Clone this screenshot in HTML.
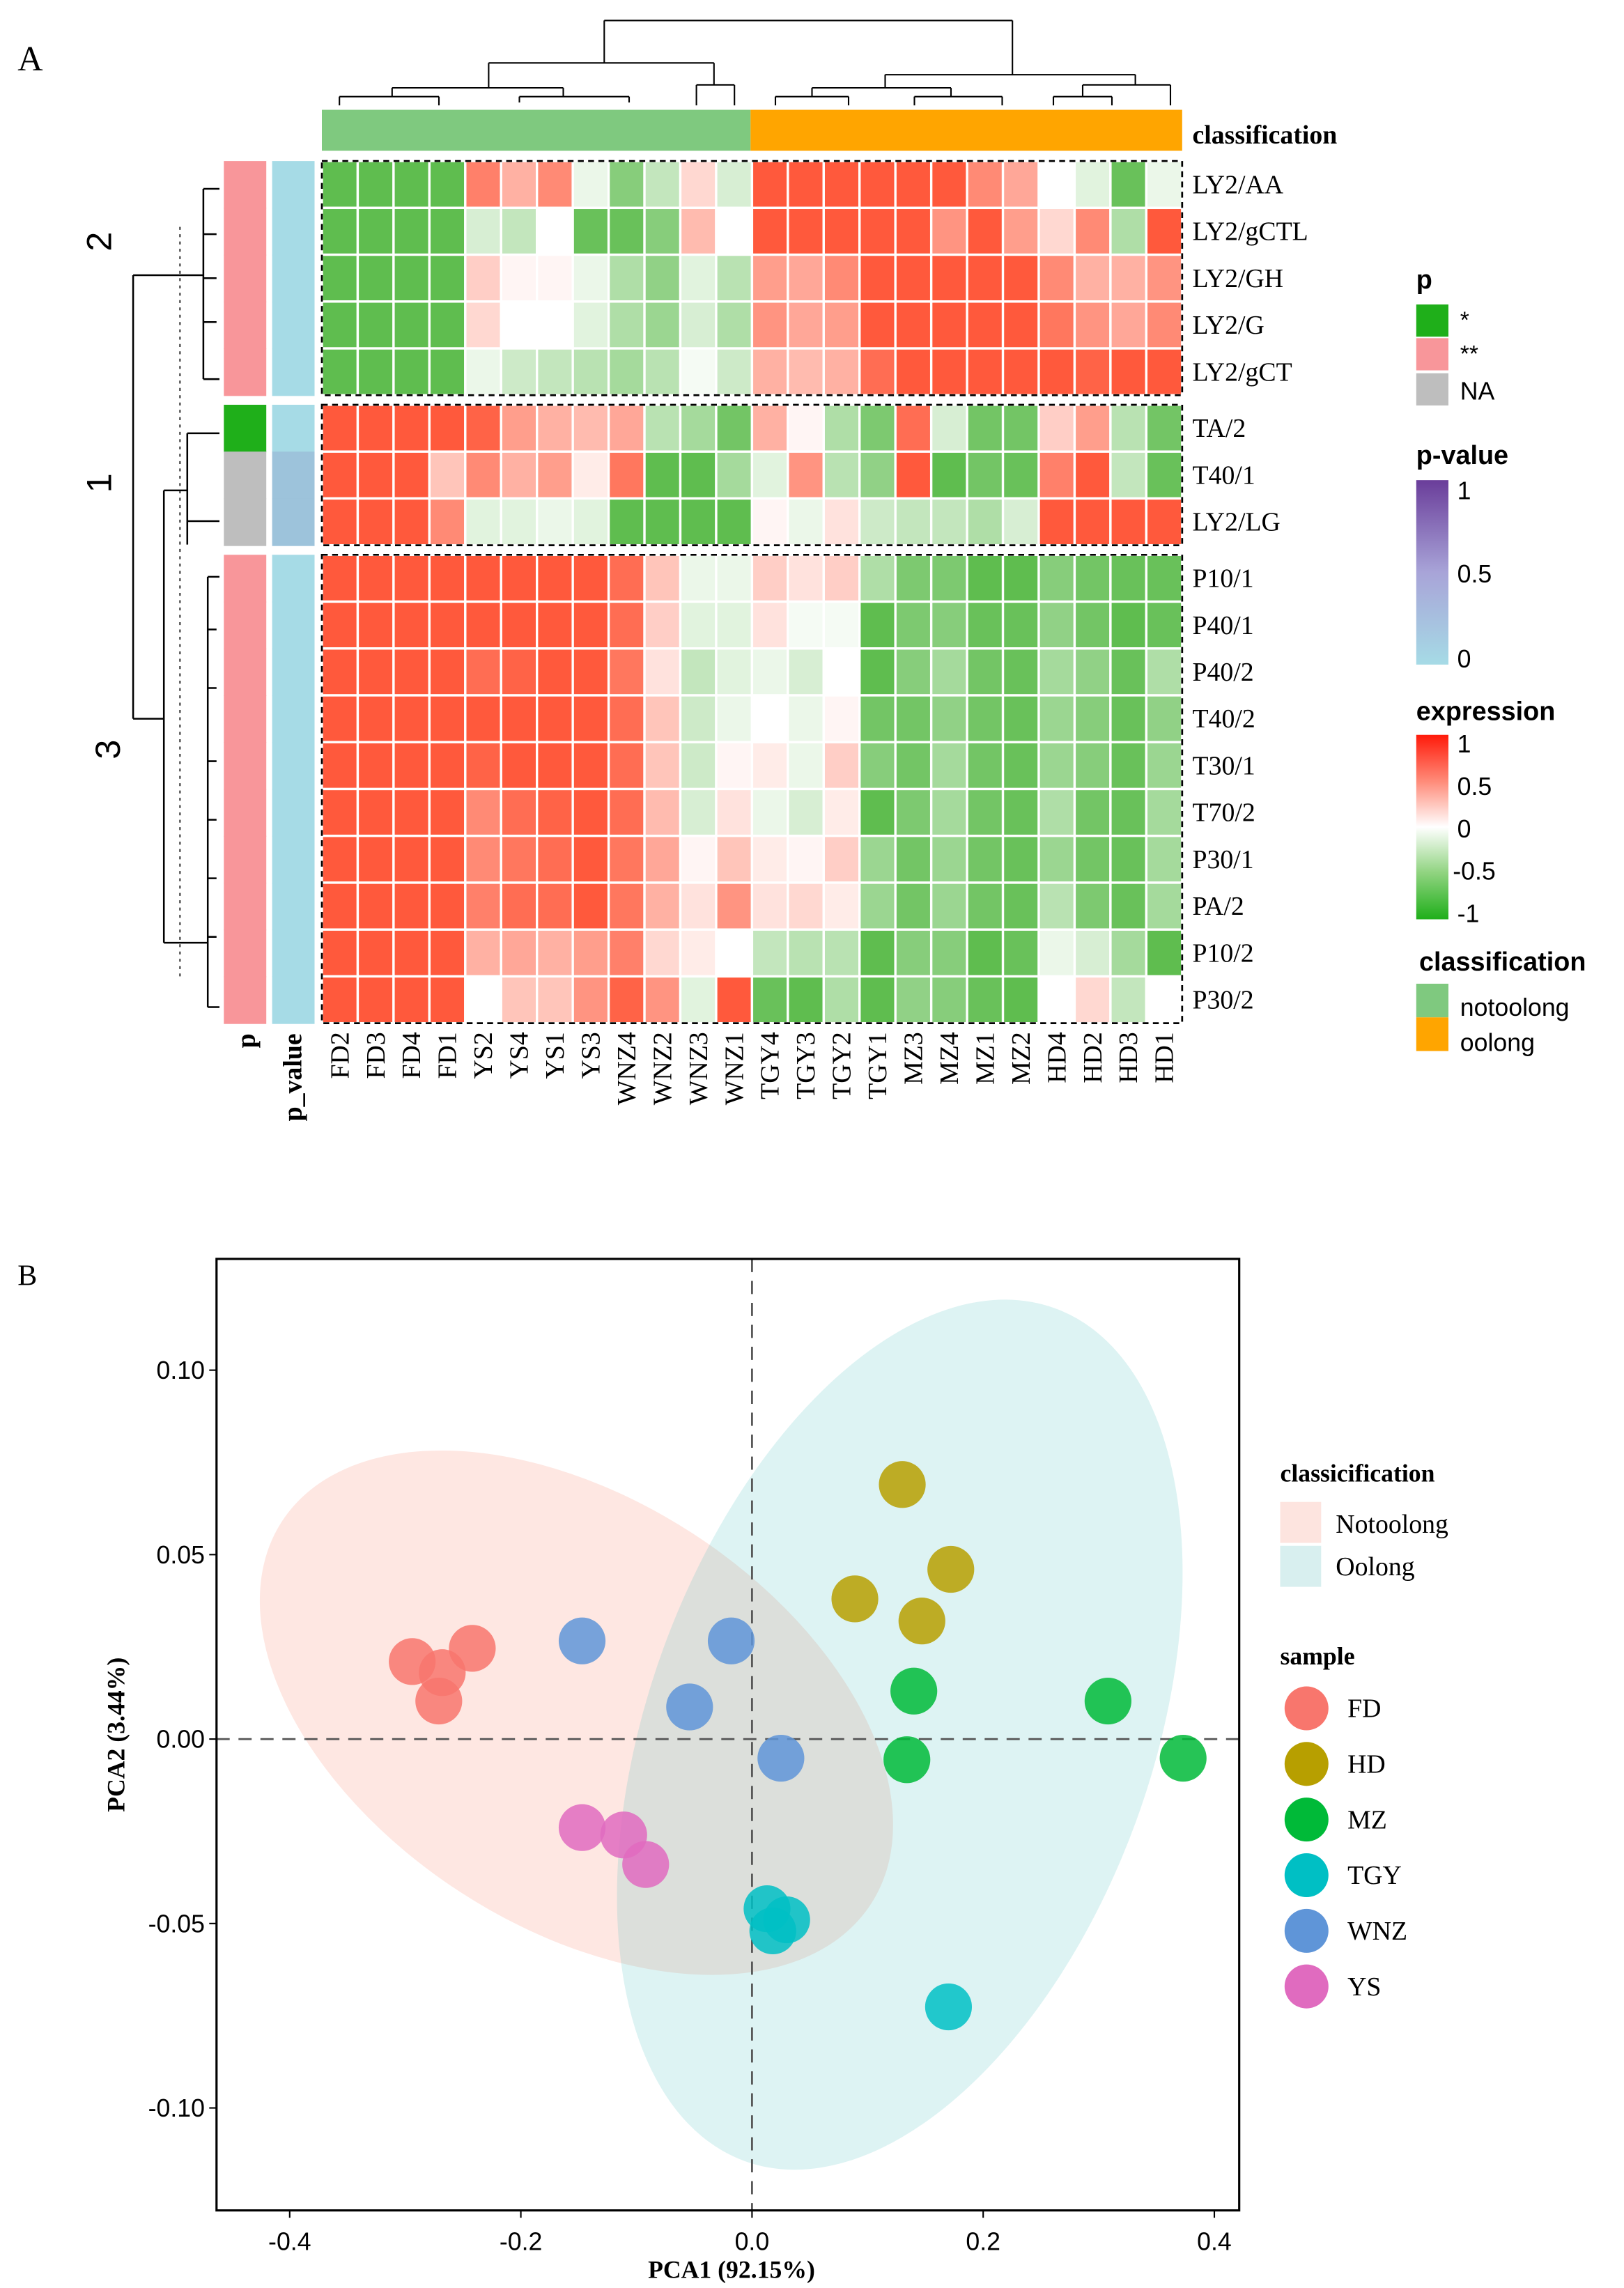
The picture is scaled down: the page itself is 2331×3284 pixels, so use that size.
<!DOCTYPE html>
<html><head><meta charset="utf-8"><style>
html,body{margin:0;padding:0;background:#fff}
svg{display:block}
.serif{font-family:"Liberation Serif",serif}
.sans{font-family:"Liberation Sans",sans-serif}
</style></head><body>
<svg id="fig" width="2331" height="3284" viewBox="0 0 1110 1563" preserveAspectRatio="none" xmlns="http://www.w3.org/2000/svg">
<defs>
<linearGradient id="gp" x1="0" y1="1" x2="0" y2="0"><stop offset="0" stop-color="#a6dbe6"/><stop offset="0.5" stop-color="#a8a4d8"/><stop offset="1" stop-color="#6a3d9a"/></linearGradient>
<linearGradient id="ge" x1="0" y1="1" x2="0" y2="0"><stop offset="0" stop-color="#1faf1a"/><stop offset="0.25" stop-color="#8fd37f"/><stop offset="0.5" stop-color="#ffffff"/><stop offset="0.75" stop-color="#ff8a78"/><stop offset="1" stop-color="#ff1a0a"/></linearGradient>
</defs>
<text class="serif" x="12" y="48" font-size="24">A</text>
<g id="coldendro" stroke="#000" stroke-width="1" fill="none">
<path d="M413,14H692M413,14V43M692,14V51M334,43H488M334,43V60M488,43V58M268,60H385M268,60V66M385,60V66M476,58H502M476,58V72M502,58V72M232,66H300M232,66V72M300,66V72M355,66H430M355,66V70M430,66V70M605,51H776M605,51V60M776,51V58M555,60H650M555,60V66M650,60V66M740,58H800M740,58V66M800,58V72M530,66H580M530,66V72M580,66V72M625,66H685M625,66V72M685,66V72M720,66H760M720,66V72M760,66V72"/>
</g>
<rect x="220" y="75" width="293" height="28" fill="#7fc97f"/>
<rect x="513" y="75" width="295" height="28" fill="#ffa500"/>
<text class="serif" x="815" y="98" font-size="18" font-weight="bold">classification</text>
<g id="rowdendro" stroke="#000" stroke-width="1.2" fill="none">
<path d="M91,188V491M91,188H139M91,491H112M112,335V644M112,335H128M112,644H142M139,129V259M139,129H150M139,259H150M139,160H148M139,190H148M139,220H148M128,296V372M128,296H150M128,356H150M142,394V688M142,394H150M142,688H150M142,430H148M142,470H148M142,520H148M142,560H148M142,600H148M142,640H148"/>
</g>
<line x1="123" y1="155" x2="123" y2="670" stroke="#000" stroke-width="0.8" stroke-dasharray="2,3"/>
<text class="sans" font-size="24" transform="translate(76,165) rotate(-90)" text-anchor="middle">2</text>
<text class="sans" font-size="24" transform="translate(76,330) rotate(-90)" text-anchor="middle">1</text>
<text class="sans" font-size="24" transform="translate(82,512) rotate(-90)" text-anchor="middle">3</text>
<g id="annot"></g>
<g id="heat"></g>
<g id="rowlabels"></g>
<g id="collabels"></g>
<text class="serif" font-size="18" font-weight="bold" transform="translate(174,706) rotate(-90)" text-anchor="end">p</text>
<text class="serif" font-size="18" font-weight="bold" transform="translate(206,706) rotate(-90)" text-anchor="end">p_value</text>
<g class="sans">
<text x="968" y="197" font-size="18" font-weight="bold">p</text>
<rect x="968" y="208" width="22" height="22" fill="#1faf1a"/><text x="998" y="224" font-size="16">*</text>
<rect x="968" y="231" width="22" height="22" fill="#f8969a"/><text x="998" y="247" font-size="16">**</text>
<rect x="968" y="255" width="22" height="22" fill="#bebebe"/><text x="998" y="273" font-size="17">NA</text>
</g>
<g class="sans">
<text x="968" y="317" font-size="18" font-weight="bold">p-value</text>
<rect x="968" y="328" width="22" height="126" fill="url(#gp)"/>
<text x="996" y="341" font-size="17">1</text><text x="996" y="398" font-size="17">0.5</text><text x="996" y="456" font-size="17">0</text>
</g>
<g class="sans">
<text x="968" y="492" font-size="18" font-weight="bold">expression</text>
<rect x="968" y="502" width="22" height="126" fill="url(#ge)"/>
<text x="996" y="514" font-size="17">1</text><text x="996" y="543" font-size="17">0.5</text><text x="996" y="572" font-size="17">0</text><text x="993" y="601" font-size="17">-0.5</text><text x="996" y="630" font-size="17">-1</text>
</g>
<g class="sans">
<text x="970" y="663" font-size="18" font-weight="bold">classification</text>
<rect x="968" y="672" width="22" height="23" fill="#7fc97f"/><rect x="968" y="695" width="22" height="23" fill="#ffa500"/>
<text x="998" y="694" font-size="17">notoolong</text><text x="998" y="718" font-size="17">oolong</text>
</g>
<text class="serif" x="12" y="878" font-size="20">B</text>
<g id="pca"></g>
<rect x="148" y="860" width="699" height="650" fill="none" stroke="#000" stroke-width="1.5"/>
<text class="serif" x="500" y="1556" font-size="17" font-weight="bold" text-anchor="middle">PCA1 (92.15%)</text>
<text class="serif" font-size="17" font-weight="bold" text-anchor="middle" transform="translate(85,1185) rotate(-90)">PCA2 (3.44%)</text>
<g class="serif">
<text x="875" y="1012" font-size="17" font-weight="bold">classicification</text>
<rect x="875" y="1026" width="28" height="28" fill="#fde4df"/><rect x="875" y="1056" width="28" height="28" fill="#d8efef"/>
<text x="913" y="1047" font-size="18">Notoolong</text><text x="913" y="1076" font-size="18">Oolong</text>
<text x="875" y="1137" font-size="17" font-weight="bold">sample</text>
</g>
<g id="pcaleg"></g>
</svg>
<script>
const NS="http://www.w3.org/2000/svg";
const columns=["FD2","FD3","FD4","FD1","YS2","YS4","YS1","YS3","WNZ4","WNZ2","WNZ3","WNZ1","TGY4","TGY3","TGY2","TGY1","MZ3","MZ4","MZ1","MZ2","HD4","HD2","HD3","HD1"];
const rows=["LY2/AA","LY2/gCTL","LY2/GH","LY2/G","LY2/gCT","TA/2","T40/1","LY2/LG","P10/1","P40/1","P40/2","T40/2","T30/1","T70/2","P30/1","PA/2","P10/2","P30/2"];
const rowGroups=[5,3,10];
const pAnnot=["**","**","**","**","**","*","NA","NA","**","**","**","**","**","**","**","**","**","**"];
const pValues=[0,0,0,0,0,0,0.15,0.15,0,0,0,0,0,0,0,0,0,0];
const R=0.85,G=-0.8;
const expr=[
[G,G,G,G,0.65,0.4,0.6,-0.1,-0.6,-0.3,0.2,-0.2,R,R,R,R,R,R,0.6,0.45,0,-0.15,-0.75,-0.1],
[G,G,G,G,-0.2,-0.3,0,-0.75,-0.75,-0.6,0.35,0,R,R,R,R,R,0.55,R,0.5,0.2,0.6,-0.4,R],
[G,G,G,G,0.25,0.05,0.05,-0.1,-0.4,-0.55,-0.15,-0.35,0.5,0.45,0.6,R,R,R,R,R,0.6,0.4,0.4,0.55],
[G,G,G,G,0.2,0,0,-0.15,-0.4,-0.5,-0.2,-0.4,0.55,0.45,0.5,R,R,R,R,R,0.7,0.55,0.45,0.6],
[G,G,G,G,-0.1,-0.25,-0.3,-0.35,-0.45,-0.35,-0.05,-0.25,0.4,0.35,0.4,0.75,R,R,R,R,R,0.8,R,R],
[R,R,R,R,0.8,0.5,0.4,0.35,0.45,-0.35,-0.45,-0.7,0.4,0.05,-0.4,-0.65,0.75,-0.2,-0.7,-0.7,0.25,0.5,-0.35,-0.7],
[R,R,R,0.3,0.6,0.4,0.5,0.1,0.7,-0.8,-0.8,-0.45,-0.15,0.55,-0.35,-0.55,R,-0.8,-0.7,-0.75,0.65,R,-0.3,-0.75],
[R,R,R,0.6,-0.15,-0.15,-0.1,-0.15,-0.8,-0.8,-0.8,-0.8,0.05,-0.1,0.15,-0.25,-0.3,-0.3,-0.4,-0.2,R,R,R,R],
[R,R,R,R,R,R,R,R,0.75,0.3,-0.1,-0.1,0.25,0.15,0.25,-0.4,-0.65,-0.65,-0.8,-0.8,-0.6,-0.7,-0.75,-0.75],
[R,R,R,R,R,R,R,R,0.75,0.25,-0.15,-0.15,0.15,-0.05,-0.05,-0.8,-0.65,-0.6,-0.75,-0.75,-0.55,-0.7,-0.8,-0.75],
[R,R,R,R,0.75,0.8,R,R,0.7,0.15,-0.3,-0.15,-0.1,-0.2,0,-0.8,-0.6,-0.45,-0.7,-0.75,-0.45,-0.55,-0.75,-0.4],
[R,R,R,R,R,R,R,R,0.75,0.3,-0.25,-0.1,0,-0.1,0.05,-0.7,-0.7,-0.55,-0.7,-0.75,-0.5,-0.6,-0.75,-0.55],
[R,R,R,R,0.8,R,R,R,0.75,0.3,-0.25,0.05,0.1,-0.1,0.25,-0.6,-0.7,-0.45,-0.7,-0.75,-0.5,-0.6,-0.75,-0.5],
[R,R,R,R,0.6,0.75,0.8,R,0.75,0.35,-0.2,0.15,-0.1,-0.2,0.1,-0.8,-0.65,-0.45,-0.7,-0.75,-0.4,-0.7,-0.75,-0.45],
[R,R,R,R,0.6,0.7,0.75,R,0.7,0.45,0.05,0.3,0.1,0.05,0.25,-0.5,-0.7,-0.5,-0.7,-0.75,-0.5,-0.7,-0.75,-0.45],
[R,R,R,R,0.65,0.75,0.75,R,0.7,0.4,0.15,0.55,0.15,0.2,0.1,-0.5,-0.7,-0.5,-0.7,-0.75,-0.35,-0.65,-0.75,-0.45],
[R,R,R,R,0.4,0.45,0.4,0.5,0.65,0.2,0.1,0,-0.3,-0.35,-0.35,-0.8,-0.6,-0.6,-0.8,-0.75,-0.1,-0.2,-0.45,-0.8],
[R,R,R,R,0,0.3,0.3,0.55,0.8,0.55,-0.15,R,-0.75,-0.8,-0.4,-0.8,-0.55,-0.6,-0.75,-0.8,0,0.2,-0.3,0]];

function el(tag,attrs,parent){const e=document.createElementNS(NS,tag);for(const k in attrs)e.setAttribute(k,attrs[k]);parent.appendChild(e);return e;}
function exprColor(v){v=Math.max(-1,Math.min(1,v));let c;if(v>=0){c=[255,255+(60-255)*v,255+(25-255)*v];}else{const t=-v;c=[255+(55-255)*t,255+(172-255)*t,255+(35-255)*t];}return "rgb("+c.map(Math.round).join(",")+")";}
function pvColor(v){const a=[166,219,230],b=[106,61,154];return "rgb("+a.map((x,i)=>Math.round(x+(b[i]-x)*v)).join(",")+")";}
const pColors={"*":"#1faf1a","**":"#f8969a","NA":"#bebebe"};
const hx0=220,hx1=808,cw=(hx1-hx0)/columns.length,rh=32,gap=6.5,hy0=110;
function rowY(i){let y=hy0,idx=0;for(let g=0;g<rowGroups.length;g++){for(let r=0;r<rowGroups[g];r++){if(idx===i)return y+r*rh;idx++;}y+=rowGroups[g]*rh+gap;}return y;}
const heat=document.getElementById('heat'),annot=document.getElementById('annot'),rl=document.getElementById('rowlabels'),cl=document.getElementById('collabels');
rows.forEach((rname,i)=>{
  const y=rowY(i);
  columns.forEach((c,j)=>{
    const r=el('rect',{x:hx0+j*cw,y:y,width:cw,height:rh,fill:exprColor(expr[i][j]),stroke:'#fff','stroke-width':1.6},heat);
    
    
  });
  const pa=el('rect',{x:153,y:y,width:29,height:rh+0.5,fill:pColors[pAnnot[i]]},annot);
  
  
  const pv=el('rect',{x:186,y:y,width:29,height:rh+0.5,fill:pvColor(pValues[i])},annot);
  
  
  const t=el('text',{x:815,y:y+rh/2+6,'font-size':18,class:'serif'},rl);t.textContent=rname;
  
  
});
{let y=hy0;rowGroups.forEach(n=>{const b=el('rect',{x:hx0,y:y,width:hx1-hx0,height:n*rh,fill:'none',stroke:'#000','stroke-width':1.3,'stroke-dasharray':'4,3'},heat);
  
  
  y+=n*rh+gap;});}
columns.forEach((c,j)=>{const cx=hx0+j*cw+cw/2+6;const t=el('text',{transform:'translate('+cx+',705) rotate(-90)','text-anchor':'end','font-size':18,class:'serif'},cl);t.textContent=c;
  
  });

const samples=["FD","HD","MZ","TGY","WNZ","YS"];
const sampleColors=["#f8766d","#b79f00","#00ba38","#00bfc4","#5f95d8","#e06bbf"];
const ptGroup=["FD","FD","FD","FD","HD","HD","HD","HD","MZ","MZ","MZ","MZ","TGY","TGY","TGY","TGY","WNZ","WNZ","WNZ","WNZ","YS","YS","YS"];
const pc1=[-0.294,-0.268,-0.242,-0.271,0.130,0.172,0.089,0.147,0.140,0.134,0.308,0.373,0.013,0.030,0.018,0.170,-0.147,-0.018,-0.054,0.025,-0.147,-0.111,-0.092];
const pc2=[0.021,0.018,0.0246,0.0103,0.069,0.046,0.038,0.032,0.013,-0.0056,0.0103,-0.0052,-0.046,-0.049,-0.052,-0.0726,0.0266,0.0266,0.0087,-0.0052,-0.024,-0.026,-0.034];
const xTicks=[-0.4,-0.2,0.0,0.2,0.4];
const xTickLabels=["-0.4","-0.2","0.0","0.2","0.4"];
const yTicks=[0.10,0.05,0.00,-0.05,-0.10];
const yTickLabels=["0.10","0.05","0.00","-0.05","-0.10"];
function X(v){return 514+v*790;}
function Y(v){return 1188-v*2520;}
const pca=document.getElementById('pca');
let e=el('ellipse',{cx:394,cy:1170,rx:240,ry:146,transform:'rotate(33 394 1170)',fill:'#f8866d','fill-opacity':0.2},pca);


e=el('ellipse',{cx:615,cy:1185,rx:172,ry:310,transform:'rotate(20 615 1185)',fill:'#40bfbf','fill-opacity':0.18},pca);


e=el('line',{x1:X(0),y1:860,x2:X(0),y2:1510,stroke:'#555','stroke-width':1.3,'stroke-dasharray':'9,6'},pca);


e=el('line',{x1:148,y1:Y(0),x2:847,y2:Y(0),stroke:'#555','stroke-width':1.3,'stroke-dasharray':'9,6'},pca);


xTicks.forEach((v,i)=>{el('line',{x1:X(v),y1:1510,x2:X(v),y2:1515,stroke:'#000'},pca);
  const t=el('text',{x:X(v),y:1537,'text-anchor':'middle','font-size':17,class:'sans'},pca);t.textContent=xTickLabels[i];
  
  });
yTicks.forEach((v,i)=>{el('line',{x1:143,y1:Y(v),x2:148,y2:Y(v),stroke:'#000'},pca);
  const t=el('text',{x:140,y:Y(v)+6,'text-anchor':'end','font-size':17,class:'sans'},pca);t.textContent=yTickLabels[i];
  
  });
pc1.forEach((v,i)=>{const c=el('circle',{cx:X(v),cy:Y(pc2[i]),r:16,fill:sampleColors[samples.indexOf(ptGroup[i])],'fill-opacity':0.85},pca);
  
  });
const pl=document.getElementById('pcaleg');
samples.forEach((s,i)=>{const y=1167+i*38;const c=el('circle',{cx:893,cy:y,r:15,fill:sampleColors[i]},pl);
  
  
  const t=el('text',{x:921,y:y+6,'font-size':18,class:'serif'},pl);t.textContent=s;
  
  });
</script>
</body></html>
